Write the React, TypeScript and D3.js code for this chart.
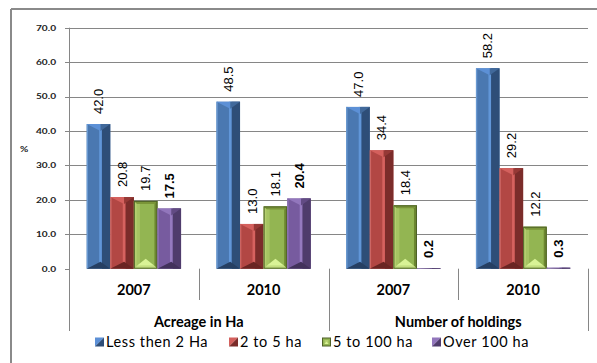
import React from 'react';
import * as d3 from 'd3';

// Share of farms (%) by size class
const years = ['2007', '2010', '2007', '2010'];
const groupNames = ['Acreage in Ha', 'Number of holdings'];
const seriesNames = ['Less then 2 Ha', '2 to 5 ha', '5 to 100 ha', 'Over 100 ha'];
const lessThan2 = [42.0, 48.5, 47.0, 58.2];
const twoTo5 = [20.8, 13.0, 34.4, 29.2];
const fiveTo100 = [19.7, 18.1, 18.4, 12.2];
const over100 = [17.5, 20.4, 0.2, 0.3];
const yTicks = [0, 10, 20, 30, 40, 50, 60, 70];

const seriesValues = [lessThan2, twoTo5, fiveTo100, over100];

const W = 597;
const H = 363;
const M = { left: 69, right: 588, top: 27.7, bottom: 268.7 };

type Palette = {
  kind: 'bevel' | 'frame';
  mid: string;
  dark: string;
  light: string;
  top: string;
  top2: string;
  bottom: string;
  edge: string;
  stroke?: string;
};

const palettes: Palette[] = [
  { kind: 'bevel', mid: '#4A78B1', dark: '#2E4E78', light: '#6196D8', top: '#5C90D6', top2: '#41699B', bottom: '#263F62', edge: '#6A9AD2' },
  { kind: 'bevel', mid: '#B24744', dark: '#7B2C2A', light: '#D6625F', top: '#D4605D', top2: '#963936', bottom: '#6A2523', edge: '#CC6664' },
  { kind: 'frame', mid: '#93B552', dark: '#6C8630', light: '#B3CF6E', top: '#7A9538', top2: '#7A9538', bottom: '#D9F396', edge: '#C4DE80', stroke: '#4E6128' },
  { kind: 'bevel', mid: '#775B9F', dark: '#4F3C6C', light: '#957ABF', top: '#9276BC', top2: '#624B84', bottom: '#42325B', edge: '#8E74B5' },
];

// legend entry start positions (marker left edge)
const legendX = [95, 229, 322, 432];

const pts = (arr: number[][]) => arr.map((p) => p.join(',')).join(' ');

function BarShape({ x, w, y0, y1, p }: { x: number; w: number; y0: number; y1: number; p: Palette }) {
  const h = y1 - y0;
  if (h <= 0) return null;
  if (p.kind === 'frame') {
    const b = Math.min(3, h / 2);
    const xc = x + w / 2;
    const tri = Math.min(7, Math.max(0, h - 2 * b));
    return (
      <g>
        <rect x={x} y={y0} width={w} height={h} fill={p.mid} />
        <polygon points={pts([[x, y0], [x + w, y0], [x + w - b, y0 + b], [x + b, y0 + b]])} fill={p.top} />
        <polygon points={pts([[x, y0], [x + b, y0 + b], [x + b, y1 - b], [x, y1]])} fill={p.light} />
        <polygon points={pts([[x + w, y0], [x + w - b, y0 + b], [x + w - b, y1 - b], [x + w, y1]])} fill={p.dark} />
        <polygon points={pts([[x, y1], [x + w, y1], [x + w - b, y1 - b], [x + b, y1 - b]])} fill={p.edge} />
        <rect x={x + b} y={y0 + b} width={3} height={Math.max(0, h - 2 * b)} fill={p.light} opacity={0.6} />
        <polygon points={pts([[x + b, y1 - b], [x + w - b, y1 - b], [xc, y1 - b - tri]])} fill={p.bottom} />
        <rect x={x + 0.5} y={y0 + 0.5} width={w - 1} height={h - 1} fill="none" stroke={p.stroke} strokeWidth={1} />
      </g>
    );
  }
  const xs = x + w * 0.53;
  const sw = w * 0.11;
  const xc = xs + sw / 2;
  const bev = Math.min(7, h / 2);
  return (
    <g>
      <rect x={x} y={y0} width={w} height={h} fill={p.mid} />
      <rect x={xs + sw} y={y0} width={x + w - xs - sw} height={h} fill={p.dark} />
      <rect x={xs} y={y0} width={sw} height={h} fill={p.light} />
      <rect x={x} y={y0} width={1.3} height={h} fill={p.edge} />
      <polygon points={pts([[x, y0], [xc, y0], [xc, y0 + bev]])} fill={p.top} />
      <polygon points={pts([[xc, y0], [x + w, y0], [xc, y0 + bev]])} fill={p.top2} />
      <polygon points={pts([[x, y1], [x + w, y1], [xc, y1 - bev]])} fill={p.bottom} />
    </g>
  );
}

function LegendMarker({ x, y, p }: { x: number; y: number; p: Palette }) {
  const s = 9;
  if (p.kind === 'frame') {
    return (
      <g>
        <rect x={x + 0.5} y={y + 0.5} width={s - 1} height={s - 1} fill={p.mid} stroke={p.stroke} strokeWidth={1} />
        <rect x={x + 2.5} y={y + 2.5} width={s - 5} height={s - 5} fill={p.light} />
        <polygon points={pts([[x + 2.5, y + s - 2.5], [x + s - 2.5, y + s - 2.5], [x + s / 2, y + s - 5]])} fill={p.bottom} />
      </g>
    );
  }
  return (
    <g>
      <polygon points={pts([[x, y], [x + s, y], [x, y + s]])} fill={p.top} />
      <polygon points={pts([[x + s, y], [x + s, y + s], [x, y + s]])} fill={p.dark} />
    </g>
  );
}

export default function App() {
  const outer = d3.scaleBand<number>().domain(d3.range(years.length)).range([M.left, M.right]);
  const bw = outer.bandwidth();
  const inner = d3
    .scaleBand<number>()
    .domain(d3.range(seriesNames.length))
    .range([0, bw])
    .paddingInner(0)
    .paddingOuter(0.75);
  const y = d3.scaleLinear().domain([0, 70]).range([M.bottom, M.top]);

  const axisColor = '#868686';
  const sepTop = M.bottom;
  const tickFont = { fontFamily: 'Lato, sans-serif', fontWeight: 700, fontSize: 7.5, fill: '#222' } as const;

  return (
    <svg
      width={W}
      height={H}
      viewBox={`0 0 ${W} ${H}`}
      style={{ position: 'absolute', left: 0, top: 0, background: '#fff' }}
    >
      <rect x={0} y={0} width={W} height={H} fill="#fff" />
      {/* chart frame */}
      <line x1={11} y1={9} x2={W} y2={9} stroke="#8a8a8a" strokeWidth={2} />
      <line x1={11} y1={9} x2={11} y2={H} stroke="#8a8a8a" strokeWidth={2} />

      {/* gridlines and y ticks */}
      {yTicks.map((t) => (
        <g key={t}>
          {t > 0 && (
            <line x1={M.left} x2={M.right} y1={Math.round(y(t)) + 0.5} y2={Math.round(y(t)) + 0.5} stroke={axisColor} strokeWidth={1} />
          )}
          <line x1={M.left - 4} x2={M.left} y1={Math.round(y(t)) + 0.5} y2={Math.round(y(t)) + 0.5} stroke={axisColor} strokeWidth={1} />
          <text
            transform={`translate(56,${y(t) + 2.8}) scale(1.35,1)`}
            textAnchor="end"
            {...tickFont}
          >
            {t.toFixed(1)}
          </text>
        </g>
      ))}
      <text transform={`translate(20,152) scale(1.35,1)`} {...tickFont}>
        %
      </text>

      {/* y axis, extended through the category labels */}
      <line x1={M.left + 0.5} x2={M.left + 0.5} y1={M.top} y2={331} stroke={axisColor} strokeWidth={1} />

      {/* category separators */}
      {d3.range(1, years.length + 1).map((i) => {
        const x = i === years.length ? M.right : (outer(i) as number);
        const long = i % 2 === 0;
        return (
          <line
            key={i}
            x1={Math.round(x) + 0.5}
            x2={Math.round(x) + 0.5}
            y1={sepTop}
            y2={long ? 331 : 300}
            stroke={axisColor}
            strokeWidth={1}
          />
        );
      })}

      {/* bars */}
      {years.map((_, ci) =>
        seriesValues.map((vals, si) => {
          const x = (outer(ci) as number) + (inner(si) as number);
          return (
            <BarShape key={`${ci}-${si}`} x={x} w={inner.bandwidth()} y0={y(vals[ci])} y1={y(0)} p={palettes[si]} />
          );
        })
      )}

      {/* value labels */}
      {years.map((_, ci) =>
        seriesValues.map((vals, si) => {
          const cx = (outer(ci) as number) + (inner(si) as number) + inner.bandwidth() / 2;
          const ty = y(vals[ci]) - 10;
          return (
            <text
              key={`l${ci}-${si}`}
              transform={`translate(${cx},${ty}) rotate(-90)`}
              dy="0.36em"
              fontFamily="'Liberation Sans', Arial, sans-serif"
              fontSize={13}
              fontWeight={si === 3 ? 700 : 400}
              fill="#000"
            >
              {vals[ci].toFixed(1)}
            </text>
          );
        })
      )}

      {/* category labels */}
      {years.map((yr, ci) => (
        <text
          key={`c${ci}`}
          x={(outer(ci) as number) + bw / 2}
          y={295}
          textAnchor="middle"
          fontFamily="Lato, sans-serif"
          fontWeight={700}
          fontSize={14.5}
          fill="#000"
        >
          {yr}
        </text>
      ))}
      {groupNames.map((g, gi) => (
        <text
          key={g}
          x={(outer(gi * 2) as number) + bw}
          y={327}
          textAnchor="middle"
          fontFamily="Lato, sans-serif"
          fontWeight={700}
          fontSize={14.5}
          fill="#000"
        >
          {g}
        </text>
      ))}

      {/* legend */}
      {seriesNames.map((name, si) => (
        <g key={name}>
          <LegendMarker x={legendX[si]} y={337.5} p={palettes[si]} />
          <text
            x={legendX[si] + 11}
            y={346.5}
            fontFamily="Lato, sans-serif"
            fontSize={14.5}
            letterSpacing={0.6}
            fill="#000"
          >
            {name}
          </text>
        </g>
      ))}
    </svg>
  );
}
